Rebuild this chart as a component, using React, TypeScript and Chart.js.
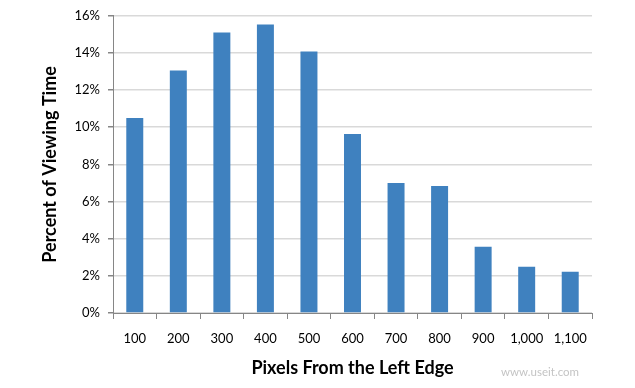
import React, { useEffect, useRef } from "react";
import { Chart, registerables } from "chart.js";

Chart.register(...registerables);

const categories = ["100", "200", "300", "400", "500", "600", "700", "800", "900", "1,000", "1,100"];
const viewingTime = [10.5, 13.06, 15.1, 15.53, 14.08, 9.63, 7.0, 6.84, 3.56, 2.49, 2.22];
const yTickValues = [0, 2, 4, 6, 8, 10, 12, 14, 16];

const FONT = "Lato, 'Open Sans', sans-serif";

export default function App() {
  const canvasRef = useRef<HTMLCanvasElement | null>(null);

  useEffect(() => {
    const canvas = canvasRef.current;
    if (!canvas) return;
    const chart = new Chart(canvas, {
      type: "bar",
      data: {
        labels: categories,
        datasets: [
          {
            label: "Percent of Viewing Time",
            data: viewingTime,
            backgroundColor: "#3f81bf",
            borderWidth: 0,
            categoryPercentage: 1,
            barPercentage: 0.39,
          },
        ],
      },
      options: {
        animation: false,
        responsive: false,
        maintainAspectRatio: false,
        layout: { padding: { left: 39, right: 43, top: 15, bottom: 9 } },
        plugins: { legend: { display: false }, tooltip: { enabled: false } },
        scales: {
          x: {
            offset: true,
            grid: {
              display: true,
              offset: true,
              drawOnChartArea: false,
              tickLength: 6,
              tickColor: "#868686",
            },
            border: { color: "#868686", width: 1 },
            ticks: {
              color: "#000",
              font: { family: FONT, size: 13 },
              padding: 12,
              maxRotation: 0,
              autoSkip: false,
            },
            title: {
              display: true,
              text: "Pixels From the Left Edge",
              color: "#000",
              font: { family: FONT, size: 18, weight: "bold" },
              padding: { top: 0, bottom: 0 },
            },
            afterFit: (scale: any) => {
              scale.height = 66;
            },
          },
          y: {
            min: 0,
            max: 16,
            afterBuildTicks: (scale: any) => {
              const vals: number[] = [];
              for (let v = 0; v <= 16; v++) vals.push(v);
              scale.ticks = vals.map((v) => ({ value: v }));
            },
            grid: {
              color: (ctx: any) =>
                ctx.tick && yTickValues.includes(ctx.tick.value) ? "#d9d9d9" : "rgba(0,0,0,0)",
              tickColor: "#868686",
              tickLength: 5,
              lineWidth: 1.5,
            },
            border: { color: "#868686", width: 1 },
            ticks: {
              color: "#000",
              font: { family: FONT, size: 13 },
              padding: 8,
              callback: (v: any) => (yTickValues.includes(Number(v)) ? v + "%" : ""),
            },
            title: {
              display: true,
              text: "Percent of Viewing Time",
              color: "#000",
              font: { family: FONT, size: 18, weight: "bold" },
              padding: { top: 0, bottom: 0 },
            },
            afterFit: (scale: any) => {
              scale.width = 74;
            },
          },
        },
      },
    });
    return () => chart.destroy();
  }, []);

  return (
    <div style={{ position: "absolute", left: 0, top: 0, width: 635, height: 388, background: "#fff" }}>
      <canvas ref={canvasRef} width={635} height={388} style={{ width: 635, height: 388, display: "block" }} />
      <div
        style={{
          position: "absolute",
          left: 501,
          top: 365,
          fontFamily: FONT,
          fontSize: 11.5,
          color: "#c4c4c4",
          whiteSpace: "nowrap",
        }}
      >
        www.useit.com
      </div>
    </div>
  );
}
